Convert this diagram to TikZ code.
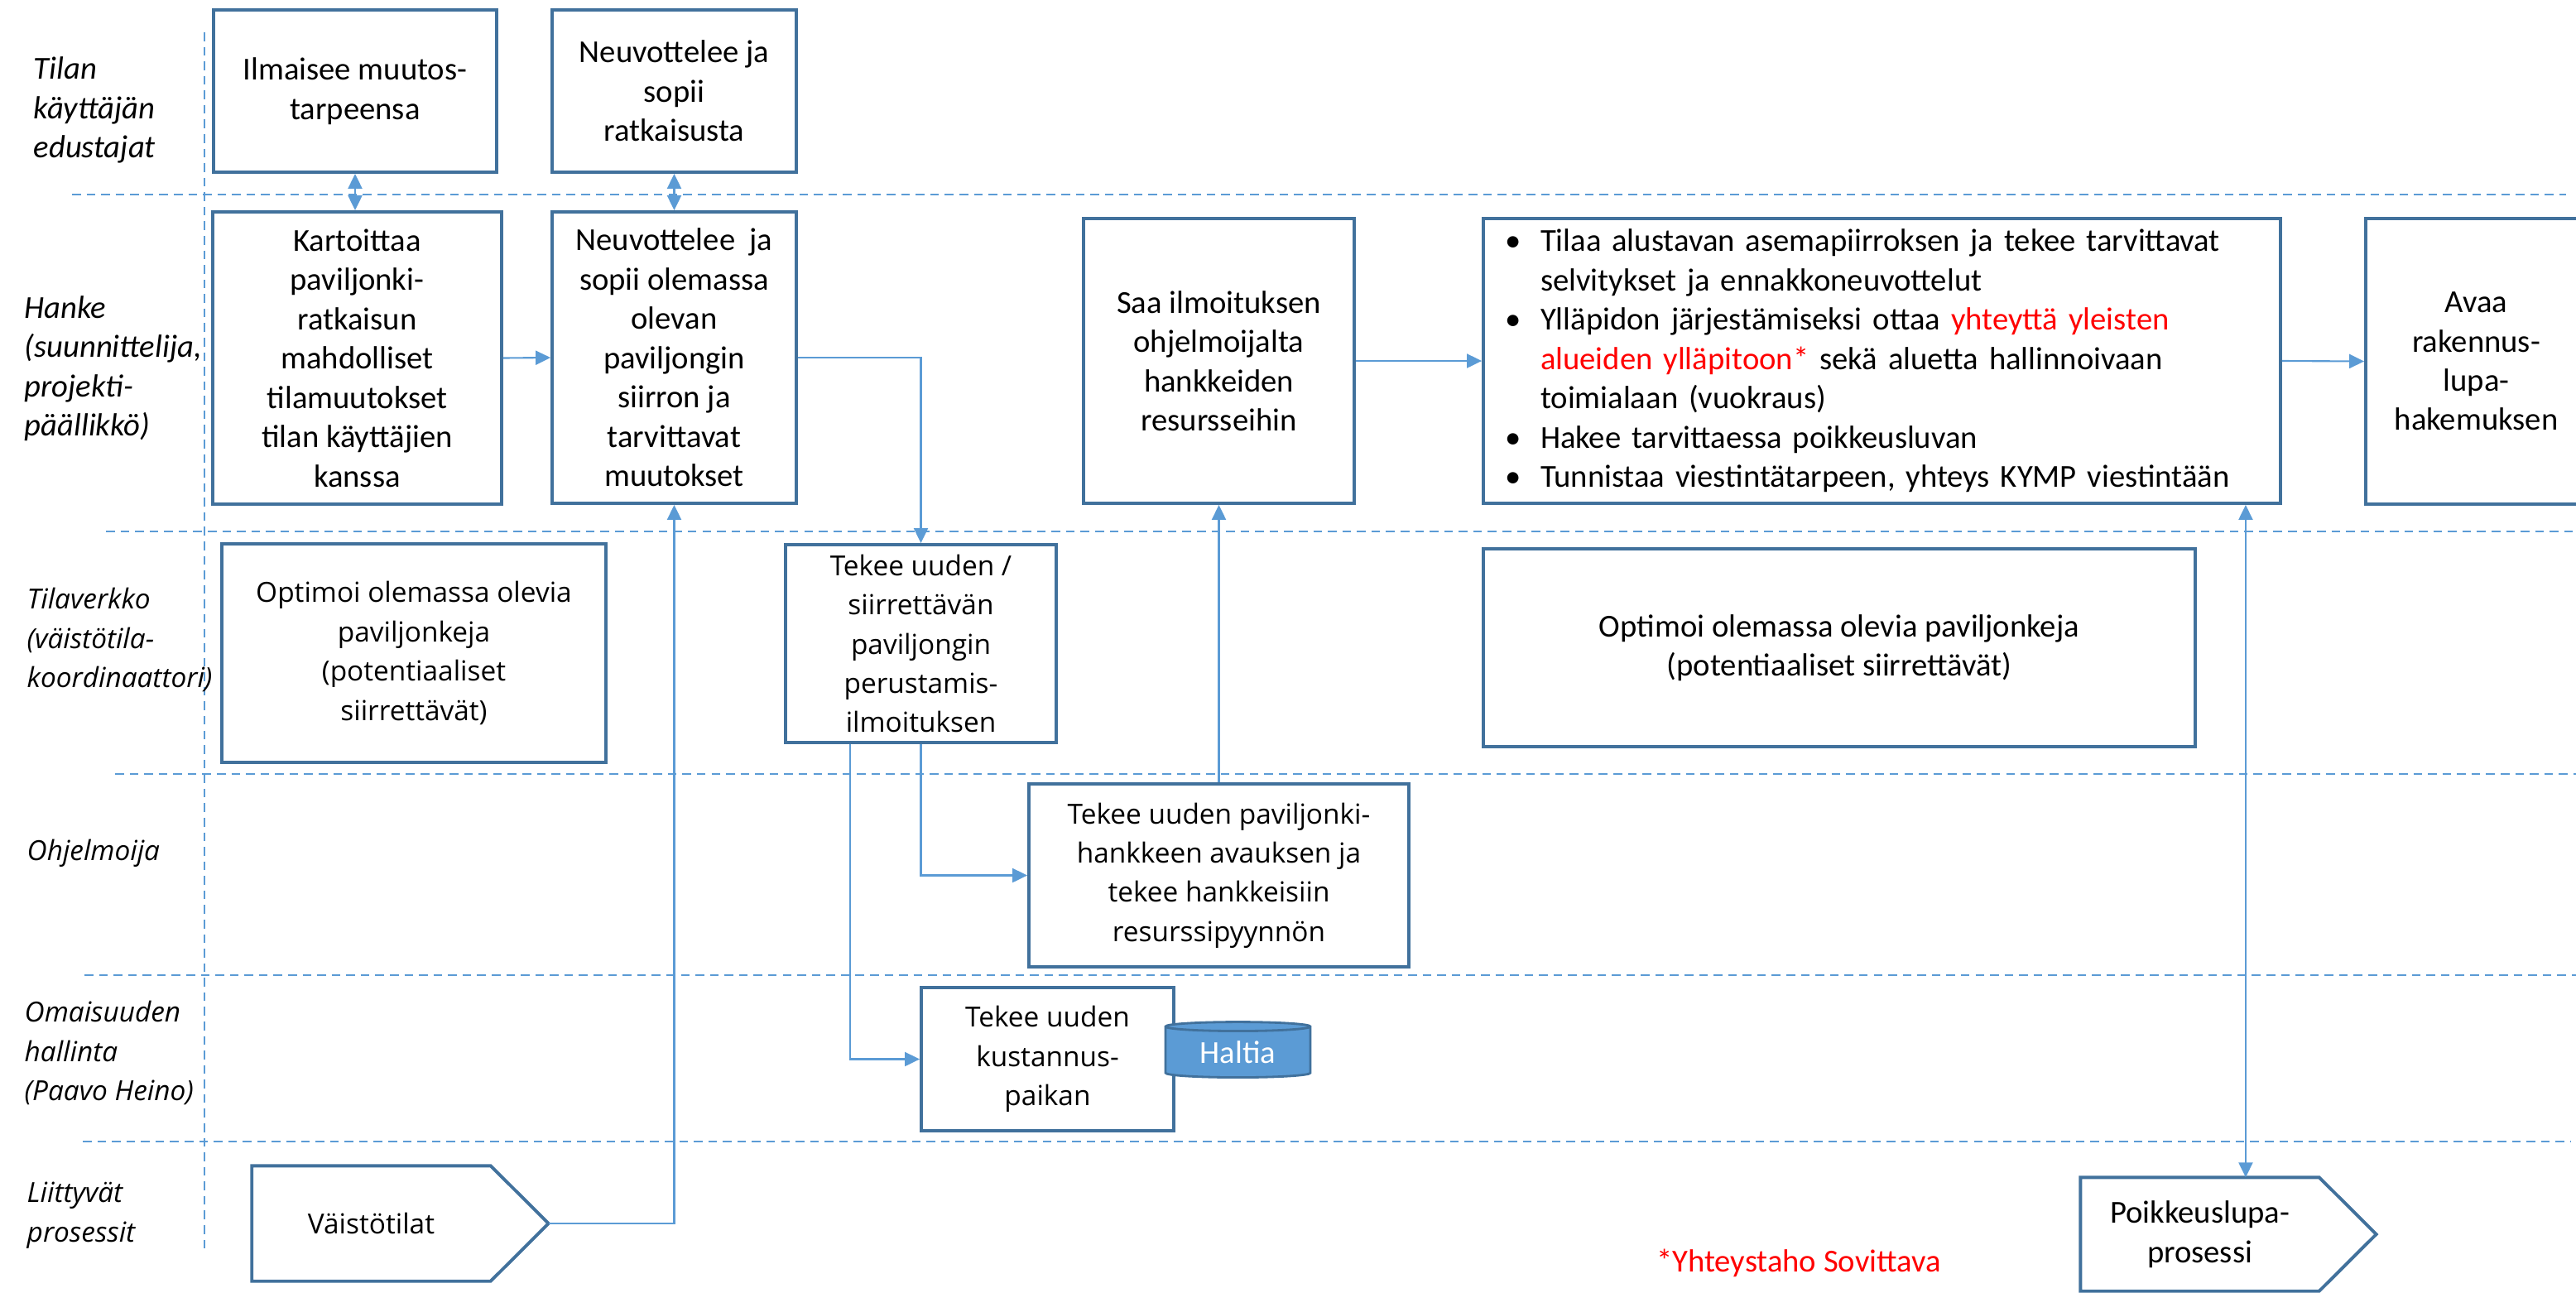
\documentclass[tikz,border=0pt]{standalone}
\usepackage{fontspec}
\setmainfont{Carlito}
\newfontfamily\widefont{Open Sans}
\usetikzlibrary{arrows.meta,shapes.geometric,calc}
\definecolor{boxblue}{HTML}{41719C}
\definecolor{laneblue}{HTML}{5B9BD5}
\definecolor{notered}{HTML}{FF0000}
\newcommand{\bulitem}{\makebox[0.43cm][l]{\textbullet}}
\newcommand{\bulcont}{\hspace*{0.43cm}}
\tikzset{
  task/.style={draw=boxblue, line width=1.1pt, align=center, inner sep=1pt,
    font=\fontsize{11}{13.5}\selectfont},
  widetask/.style={task, font=\widefont\fontsize{9.5}{13.5}\selectfont},
  procbox/.style={align=center, inner sep=1pt},
  lane/.style={draw=laneblue, line width=0.7pt, dash pattern=on 3pt off 2pt},
  flow/.style={draw=laneblue, line width=0.6pt},
  role/.style={anchor=west, align=left, inner sep=0pt,
    font=\itshape\fontsize{11}{13.5}\selectfont},
  widerole/.style={role, font=\widefont\itshape\fontsize{9.5}{13.5}\selectfont},
}
\begin{document}
\begin{tikzpicture}[>={Triangle[length=1.8mm,width=1.7mm]}]
\useasboundingbox (0,0) rectangle (31.12,-15.61);
% swimlanes
\draw[lane] (0.87,-2.35)--(31.0,-2.35);
\draw[lane] (1.28,-6.42)--(31.12,-6.42);
\draw[lane] (1.39,-9.35)--(31.12,-9.35);
\draw[lane] (1.02,-11.78)--(31.12,-11.78);
\draw[lane] (1.00,-13.79)--(31.05,-13.79);
\draw[lane] (2.47,-0.39)--(2.47,-15.13);

\node[role] (rtilan) at (0.40,-1.33) {Tilan\\käyttäjän\\edustajat};
\node[role] (rhanke) at (0.29,-4.45) {Hanke\\(suunnittelija,\\projekti-\\päällikkö)};
\node[widerole] (rverkko) at (0.32,-7.73) {Tilaverkko\\(väistötila-\\koordinaattori)};
\node[widerole] (rohjelm) at (0.32,-10.31) {Ohjelmoija};
\node[widerole] (romais) at (0.29,-12.72) {Omaisuuden\\hallinta\\(Paavo Heino)};
\node[widerole] (rliitt) at (0.32,-14.68) {Liittyvät\\prosessit};

% tehtävät
\node[task, minimum width=3.42cm, minimum height=1.96cm] (ilmaisee) at (4.29,-1.10) {Ilmaisee muutos-\\tarpeensa};
\node[task, minimum width=2.95cm, minimum height=1.96cm] (sopii) at (8.145,-1.10) {Neuvottelee ja\\sopii\\ratkaisusta};
\node[task, minimum width=3.49cm, minimum height=3.53cm] (kartoittaa) at (4.315,-4.325) {Kartoittaa\\paviljonki-\\ratkaisun\\mahdolliset\\tilamuutokset\\tilan käyttäjien\\kanssa};
\node[task, minimum width=2.95cm, minimum height=3.52cm] (neuvottelee) at (8.145,-4.32) {Neuvottelee \ ja\\sopii olemassa\\olevan\\paviljongin\\siirron ja\\tarvittavat\\muutokset};
\node[task, minimum width=3.27cm, minimum height=3.44cm] (saa) at (14.725,-4.36) {Saa ilmoituksen\\ohjelmoijalta\\hankkeiden\\resursseihin};
\node[task, align=left, inner xsep=0.26cm, text width=9.11cm, minimum height=3.44cm] (tilaa) at (22.735,-4.36) {\bulitem Tilaa alustavan asemapiirroksen ja tekee tarvittavat\\
\bulcont selvitykset ja ennakkoneuvottelut\\
\bulitem Ylläpidon järjestämiseksi ottaa \textcolor{notered}{yhteyttä yleisten}\\
\bulcont\textcolor{notered}{alueiden ylläpitoon*} sekä aluetta hallinnoivaan\\
\bulcont toimialaan (vuokraus)\\
\bulitem Hakee tarvittaessa poikkeusluvan\\
\bulitem Tunnistaa viestintätarpeen, yhteys KYMP viestintään};
\node[task, minimum width=2.67cm, minimum height=3.45cm] (avaa) at (29.915,-4.365) {Avaa\\rakennus-\\lupa-\\hakemuksen};

\node[widetask, minimum width=4.64cm, minimum height=2.64cm] (optimoi) at (5.00,-7.89) {Optimoi olemassa olevia\\paviljonkeja\\(potentiaaliset\\siirrettävät)};
\node[widetask, minimum width=3.27cm, minimum height=2.39cm] (siirto) at (11.125,-7.775) {Tekee uuden /\\siirrettävän\\paviljongin\\perustamis-\\ilmoituksen};
\node[task, minimum width=8.60cm, minimum height=2.39cm] (optimoib) at (22.22,-7.825) {Optimoi olemassa olevia paviljonkeja\\(potentiaaliset siirrettävät)};
\node[widetask, minimum width=4.59cm, minimum height=2.21cm] (avaus) at (14.725,-10.575) {Tekee uuden paviljonki-\\hankkeen avauksen ja\\tekee hankkeisiin\\resurssipyynnön};
\node[widetask, minimum width=3.05cm, minimum height=1.73cm] (kustannus) at (12.655,-12.795) {Tekee uuden\\kustannus-\\paikan};
\node[cylinder, shape border rotate=90, aspect=0.12, draw=boxblue, line width=0.8pt,
  cylinder uses custom fill, cylinder body fill=laneblue, cylinder end fill=laneblue,
  minimum width=1.75cm, minimum height=0.67cm, inner sep=0pt, text=white,
  font=\fontsize{11}{13.5}\selectfont] (haltia) at (14.955,-12.715) {Haltia};

% liittyvät prosessit
\node[procbox, minimum width=2.87cm, minimum height=1.38cm, font=\widefont\fontsize{9.5}{13.5}\selectfont] (vaisto) at (4.485,-14.78) {Väistötilat};
\coordinate (vaistotip) at ($(vaisto.east)+(0.70,0)$);
\draw[boxblue, line width=1.1pt] (vaisto.north west) -- (vaisto.north east) -- (vaistotip) -- (vaisto.south east) -- (vaisto.south west) -- cycle;
\node[procbox, minimum width=2.87cm, minimum height=1.36cm, font=\fontsize{11}{13.5}\selectfont] (poikkeus) at (26.575,-14.91) {Poikkeuslupa-\\prosessi};
\coordinate (poikkeustip) at ($(poikkeus.east)+(0.69,0)$);
\draw[boxblue, line width=1.1pt] (poikkeus.north west) -- (poikkeus.north east) -- (poikkeustip) -- (poikkeus.south east) -- (poikkeus.south west) -- cycle;

\node[text=notered, font=\fontsize{11}{13.5}\selectfont] (huom) at (21.73,-15.26) {*Yhteystaho Sovittava};

% yhteydet
\draw[flow,<->] (ilmaisee.south) -- (ilmaisee.south |- kartoittaa.north);
\draw[flow,<->] (sopii.south) -- (neuvottelee.north);
\draw[flow,->] (kartoittaa.east) -- (neuvottelee.west);
\draw[flow,->] (neuvottelee.east) -| (siirto.north);
\draw[flow,->] (siirto.south) |- (avaus.west);
\draw[flow,->] ($(siirto.south)+(-0.855,0)$) |- (kustannus.west);
\draw[flow,->] (avaus.north) -- (saa.south);
\draw[flow,->] (saa.east) -- (tilaa.west);
\draw[flow,->] (tilaa.east) -- (avaa.west);
\draw[flow,->] (vaistotip) -| (neuvottelee.south);
\draw[flow,<->] ([xshift=-0.44cm]tilaa.south east) -- ([xshift=-0.44cm]tilaa.south east |- poikkeus.north);
\end{tikzpicture}
\end{document}
